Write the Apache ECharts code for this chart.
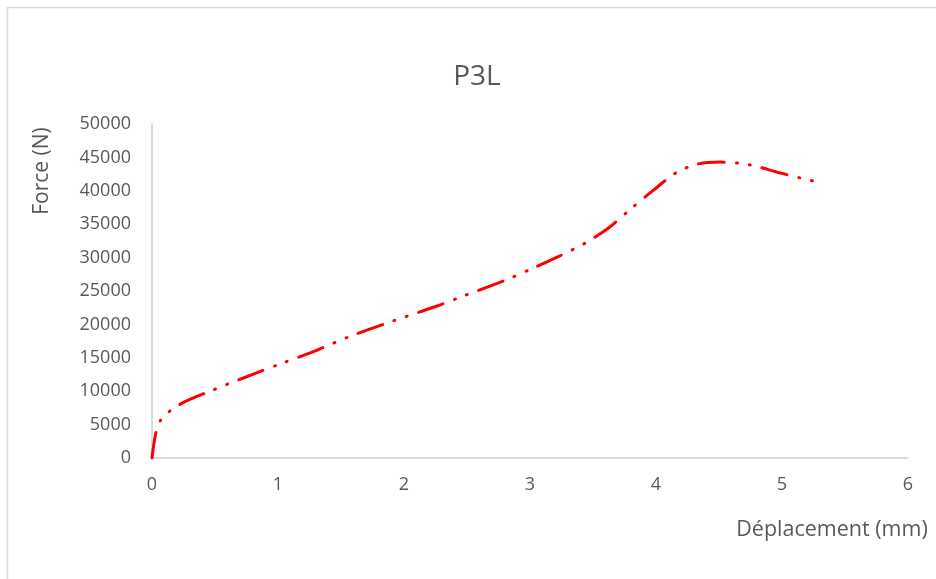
<!DOCTYPE html>
<html>
<head>
<meta charset="utf-8">
<script src="https://cdn.jsdelivr.net/npm/echarts@6/dist/echarts.min.js"></script>
<style>
  html, body { margin: 0; padding: 0; background: #fff; }
  #chart { width: 936px; height: 579px; }
</style>
</head>
<body>
<div id="chart"></div>
<script>
// Load–displacement curve for specimen P3L
const chartTitle = 'P3L';
const xAxisTitle = 'Déplacement (mm)';
const yAxisTitle = 'Force (N)';

// displacement (mm)
const displacement = [0, 0.03, 0.07, 0.16, 0.27, 0.46, 0.81, 1.02, 1.25, 1.57, 1.91, 2.24, 2.47, 2.79, 3.01, 3.22, 3.44, 3.62, 3.80, 3.98, 4.16, 4.33, 4.51, 4.74, 4.98, 5.15, 5.33];
// force (N)
const force = [0, 3700, 5700, 7300, 8500, 10000, 12600, 14100, 15700, 18200, 20500, 22600, 24250, 26500, 28300, 30100, 32200, 34400, 37300, 40100, 42700, 44000, 44300, 43900, 42700, 41900, 41100];

const xTicks = { min: 0, max: 6, interval: 1 };
const yTicks = { min: 0, max: 50000, interval: 5000 };

const points = displacement.map((d, i) => [d, force[i]]);

const labelColor = '#595959';
const fontFamily = '"Open Sans", "Noto Sans", sans-serif';

const chart = echarts.init(document.getElementById('chart'), null, { renderer: 'canvas' });
chart.setOption({
  animation: false,
  backgroundColor: '#ffffff',
  title: {
    text: chartTitle,
    left: 472,
    top: 58,
    textAlign: 'center',
    textStyle: { color: labelColor, fontSize: 28, fontWeight: 'normal', fontFamily: fontFamily }
  },
  grid: { left: 152, right: 28, top: 124, bottom: 121 },
  xAxis: {
    type: 'value',
    min: xTicks.min, max: xTicks.max, interval: xTicks.interval,
    axisLine: { show: true, lineStyle: { color: '#d0d0d0', width: 1.5 } },
    axisTick: { show: false },
    splitLine: { show: false },
    axisLabel: { color: labelColor, fontSize: 18, margin: 18, fontFamily: fontFamily }
  },
  yAxis: {
    type: 'value',
    min: yTicks.min, max: yTicks.max, interval: yTicks.interval,
    axisLine: { show: true, lineStyle: { color: '#d0d0d0', width: 1.5 } },
    axisTick: { show: false },
    splitLine: { show: false },
    axisLabel: {
      color: labelColor, fontSize: 18, margin: 21, fontFamily: fontFamily,
      formatter: v => String(v)
    }
  },
  graphic: [
    {
      type: 'rect',
      shape: { x: 7.5, y: 7.5, width: 1000, height: 1000 },
      style: { fill: 'none', stroke: '#d9d9d9', lineWidth: 1.5 },
      silent: true, z: -1
    },
    {
      type: 'text',
      x: 832, y: 530,
      style: { text: xAxisTitle, fill: labelColor, fontSize: 21.5, fontFamily: fontFamily, align: 'center', verticalAlign: 'middle' }
    },
    {
      type: 'text',
      x: 42, y: 171,
      rotation: Math.PI / 2,
      style: { text: yAxisTitle, fill: labelColor, fontSize: 21, fontFamily: fontFamily, align: 'center', verticalAlign: 'middle' }
    }
  ],
  series: [{
    type: 'line',
    data: points,
    smooth: 0.3,
    symbol: 'none',
    lineStyle: {
      color: '#ff0000',
      width: 3,
      type: [26, 12, 1, 12, 1, 12],
      cap: 'round'
    }
  }]
});
</script>
</body>
</html>
